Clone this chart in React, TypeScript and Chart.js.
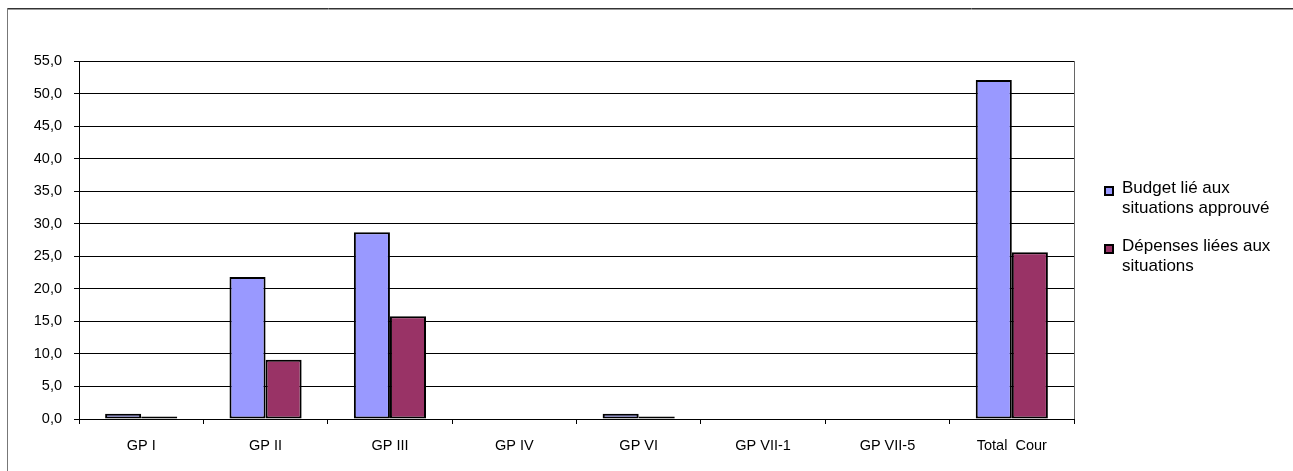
import React, { useEffect, useRef } from "react";
import { Chart, registerables } from "chart.js";

Chart.register(...registerables);

const categories = ["GP I", "GP II", "GP III", "GP IV", "GP VI", "GP VII-1", "GP VII-5", "Total  Cour"];
const budgetValues = [0.8, 21.8, 28.7, 0, 0.8, 0, 0, 52.1];
const depensesValues = [0.4, 9.1, 15.8, 0, 0.4, 0, 0, 25.6];
const seriesNames = [["Budget lié aux", "situations approuvé"], ["Dépenses liées aux", "situations"]];
const seriesColors = ["#9999FF", "#993366"];
const yMax = 55;
const yStep = 5;

const FONT = "'Liberation Sans', Arial, sans-serif";

const framePlugin = {
  id: "frame",
  beforeDraw(chart: any) {
    const ctx = chart.ctx;
    ctx.save();
    ctx.strokeStyle = "#333";
    ctx.lineWidth = 1;
    ctx.beginPath();
    ctx.moveTo(7, 8.5);
    ctx.lineTo(chart.width, 8.5);
    ctx.stroke();
    ctx.strokeStyle = "#999";
    ctx.beginPath();
    ctx.moveTo(7, 9.5);
    ctx.lineTo(chart.width, 9.5);
    ctx.stroke();
    ctx.strokeStyle = "#777";
    ctx.beginPath();
    ctx.moveTo(7.5, 8);
    ctx.lineTo(7.5, chart.height);
    ctx.stroke();
    ctx.restore();
  },
  afterDraw(chart: any) {
    const ctx = chart.ctx;
    const a = chart.chartArea;
    ctx.save();
    ctx.strokeStyle = "#666";
    ctx.lineWidth = 1;
    ctx.beginPath();
    ctx.moveTo(Math.round(a.right) + 0.5, a.top);
    ctx.lineTo(Math.round(a.right) + 0.5, a.bottom);
    ctx.stroke();

    // legend
    const boxX = 1105;
    const textX = 1122;
    const baselines = [193, 251];
    const lineH = 20;
    ctx.font = `17px ${FONT}`;
    ctx.textBaseline = "alphabetic";
    ctx.textAlign = "left";
    baselines.forEach((b, i) => {
      ctx.fillStyle = seriesColors[i];
      ctx.fillRect(boxX, b - 6, 8, 8);
      ctx.strokeStyle = "#000";
      ctx.lineWidth = 2;
      ctx.strokeRect(boxX, b - 6, 8, 8);
      ctx.fillStyle = "#000";
      seriesNames[i].forEach((line, j) => {
        ctx.fillText(line, textX, b + j * lineH);
      });
    });
    ctx.restore();
  },
};

export default function App() {
  const ref = useRef<HTMLCanvasElement | null>(null);

  useEffect(() => {
    if (!ref.current) return;
    const chart = new Chart(ref.current, {
      type: "bar",
      data: {
        labels: categories,
        datasets: [
          {
            label: seriesNames[0].join(" "),
            data: budgetValues,
            backgroundColor: seriesColors[0],
            borderColor: "#000",
            borderWidth: 2,
            borderSkipped: false,
          },
          {
            label: seriesNames[1].join(" "),
            data: depensesValues,
            backgroundColor: seriesColors[1],
            borderColor: "#000",
            borderWidth: 2,
            borderSkipped: false,
          },
        ],
      },
      options: {
        animation: false,
        responsive: true,
        maintainAspectRatio: false,
        layout: { padding: { left: 0, right: 219, top: 61, bottom: 0 } },
        datasets: { bar: { categoryPercentage: 0.58, barPercentage: 1 } },
        plugins: {
          legend: { display: false },
          tooltip: { enabled: false },
        },
        scales: {
          x: {
            offset: true,
            afterFit: (s: any) => {
              s.height = 52;
            },
            grid: {
              offset: true,
              drawOnChartArea: false,
              drawTicks: true,
              tickLength: 5,
              color: "#000",
            },
            border: { color: "#000", width: 1 },
            ticks: {
              color: "#000",
              padding: 13,
              font: { family: FONT, size: 14.5 },
              maxRotation: 0,
              autoSkip: false,
            },
          },
          y: {
            min: 0,
            max: yMax,
            afterFit: (s: any) => {
              s.width = 79;
            },
            grid: {
              color: "#000",
              lineWidth: 1,
              tickLength: 5,
            },
            border: { color: "#000", width: 1 },
            ticks: {
              stepSize: yStep,
              color: "#000",
              padding: 12,
              font: { family: FONT, size: 14.5 },
              callback: (v: any) => Number(v).toFixed(1).replace(".", ","),
            },
          },
        },
      },
      plugins: [framePlugin],
    });
    return () => chart.destroy();
  }, []);

  return (
    <div style={{ position: "fixed", left: 0, top: 0, width: 1293, height: 471, background: "#fff" }}>
      <canvas ref={ref} />
    </div>
  );
}
